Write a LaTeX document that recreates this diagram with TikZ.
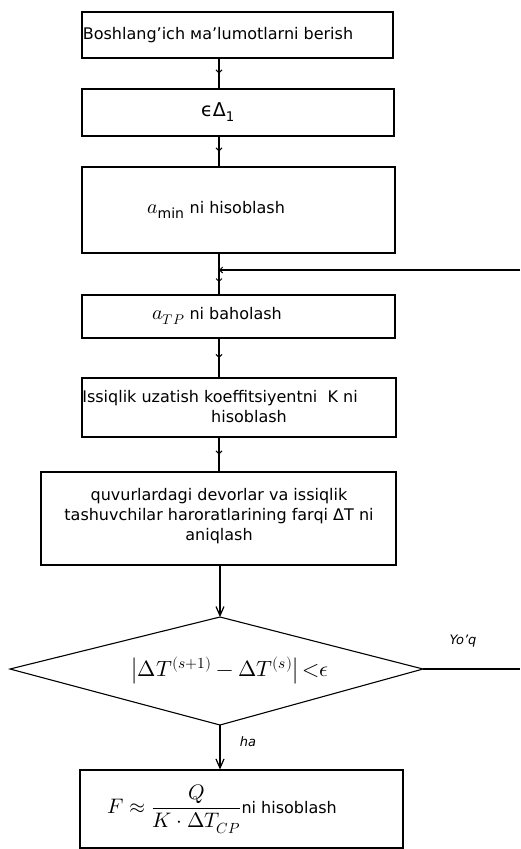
\documentclass[tikz,border=0pt]{standalone}
\usepackage{unicode-math}
\setmainfont{DejaVu Sans}
\setmathfont{Latin Modern Math}
\usetikzlibrary{arrows.meta,decorations.markings}
\newcommand{\boxmath}[1]{{\fontsize{20}{20}\selectfont$#1$}}
\tikzset{
  ln/.style={line width=1.1pt, black},
  boxshape/.style={draw, ln, rectangle, inner sep=0pt},
  txt/.style={font=\fontsize{16}{20}\selectfont, align=center, inner sep=0pt},
  midtick/.style={postaction={decorate}, decoration={markings,
      mark=at position 0.5 with {\arrow{Straight Barb[length=3pt,width=6pt,line width=1pt]}}}},
  arr/.style={-{Straight Barb[length=9pt,width=8pt,line width=1.2pt]}},
  lbl/.style={font=\fontsize{13}{15}\selectfont\itshape, inner sep=0pt}
}
\begin{document}
\begin{tikzpicture}[x=1pt,y=-1pt]
\useasboundingbox (0,0) rectangle (520,849);
% boxes
\node[boxshape, minimum width=311pt, minimum height=46pt] (b1) at (237.5,35) {};
\node[boxshape, minimum width=312pt, minimum height=47pt] (b2) at (238,112.5) {};
\node[boxshape, minimum width=313pt, minimum height=86pt] (b3) at (238.5,210) {};
\node[boxshape, minimum width=313pt, minimum height=43pt] (b4) at (238.5,316.5) {};
\node[boxshape, minimum width=314pt, minimum height=59pt] (b5) at (239,407.5) {};
\node[boxshape, minimum width=355pt, minimum height=93pt] (b6) at (218.5,518.5) {};
\node[boxshape, minimum width=323pt, minimum height=78pt] (b7) at (241.5,809) {};
% texts
\node[txt] (t1) at (218,35) {Boshlang'ich ма'lumotlarni berish};
\node[txt, font=\fontsize{19}{20}\selectfont] (t2) at (218,112) {ϵΔ\textsubscript{1}};
\node[txt] (t3) at (216,210) {\boxmath{a_{\mathrm{min}}} ni hisoblash};
\node[txt] (t4) at (217,316) {\boxmath{a_{TP}} ni baholash};
\node[txt] (t5) at (220,407) {Issiqlik uzatish koeffitsiyentni\ \ K ni\\\hspace*{58pt}hisoblash};
\node[txt] (t6) at (219,516) {quvurlardagi devorlar va issiqlik\\tashuvchilar haroratlarining farqi ΔT ni\\aniqlash};
% diamond
\coordinate (dt) at (220,617);
\coordinate (dl) at (10,669);
\coordinate (dr) at (423,669);
\coordinate (db) at (220,725);
\draw[ln, line join=miter] (dt) -- (dr) -- (db) -- (dl) -- cycle;
\node[txt, font=\fontsize{22}{24}\selectfont] (cond) at (230,671) {$\left|\Delta T^{(s+1)}-\Delta T^{(s)}\right|{<}\epsilon$};
\node[txt, font=\fontsize{21}{24}\selectfont] (t7) at (222,809) {$F\approx\displaystyle\frac{Q}{K\cdot\Delta T_{CP}}$\fontsize{16}{18}\selectfont ni hisoblash};
\node[lbl] (yoq) at (463,641) {Yo'q};
\node[lbl] (ha) at (248,742) {ha};
% connectors
\coordinate (tr) at (219,0);
\draw[ln, midtick] (b1.south -| tr) -- (b2.north -| tr);
\draw[ln, midtick] (b2.south -| tr) -- (b3.north -| tr);
\coordinate (fbJ) at (219,270);
\coordinate (fbR) at (520,270);
\draw[ln] (b3.south -| tr) -- (fbJ);
\draw[ln, midtick] (fbJ) -- (b4.north -| tr);
\draw[ln, -{Straight Barb[length=3pt,width=6pt,line width=1pt]}] (fbR) -- (fbJ);
\draw[ln, midtick] (b4.south -| tr) -- (b5.north -| tr);
\draw[ln, midtick] (b5.south -| tr) -- (b6.north -| tr);
\draw[ln, arr] (b6.south -| dt) -- (dt);
\draw[ln, arr] (db) -- (b7.north -| db);
\coordinate (dR2) at (520,669);
\draw[ln] (dr) -- (dR2);
\end{tikzpicture}
\end{document}
